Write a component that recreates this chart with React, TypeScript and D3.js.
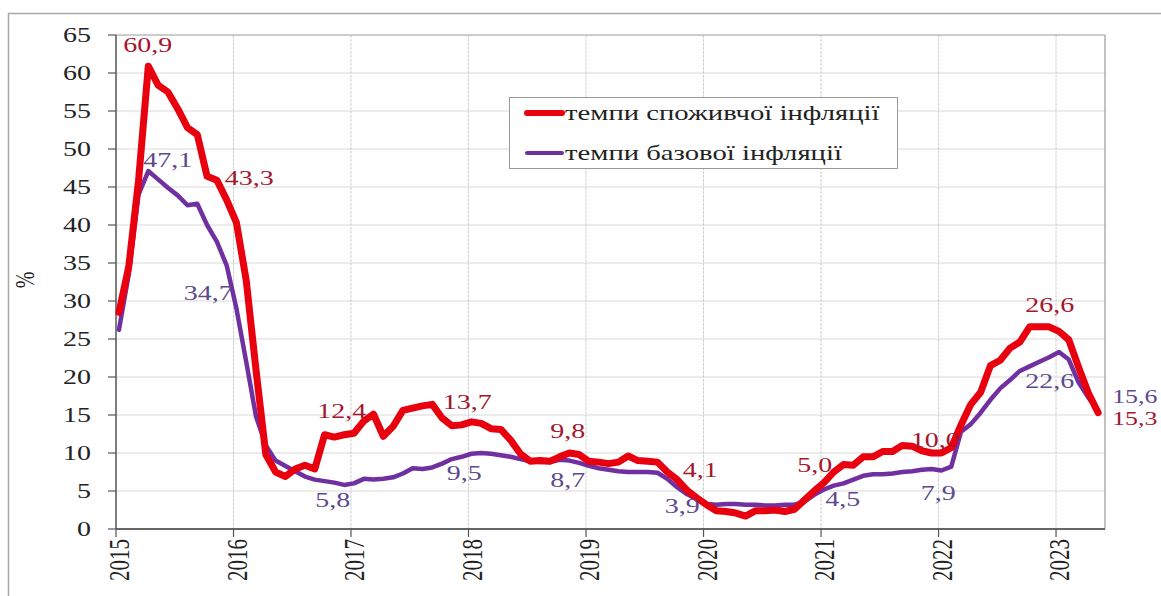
import React from "react";
import * as d3 from "d3";

// Monthly data, Jan 2015 – May 2023 (y/y, %)
const years = [2015, 2016, 2017, 2018, 2019, 2020, 2021, 2022, 2023];
const yTicks = [0, 5, 10, 15, 20, 25, 30, 35, 40, 45, 50, 55, 60, 65];

const cpi = [
  28.5, 34.5, 45.8, 60.9, 58.4, 57.5, 55.3, 52.8, 51.9, 46.4, 45.9, 43.3,
  40.3, 32.7, 20.9, 9.8, 7.5, 6.9, 7.9, 8.4, 7.9, 12.4, 12.1, 12.4,
  12.6, 14.2, 15.1, 12.2, 13.5, 15.6, 15.9, 16.2, 16.4, 14.6, 13.6, 13.7,
  14.1, 13.9, 13.2, 13.1, 11.7, 9.9, 8.9, 9.0, 8.9, 9.5, 10.0, 9.8,
  8.9, 8.8, 8.6, 8.8, 9.6, 9.0, 8.9, 8.8, 7.5, 6.5, 5.1, 4.1,
  3.2, 2.4, 2.3, 2.1, 1.7, 2.4, 2.4, 2.5, 2.3, 2.6, 3.8, 5.0,
  6.1, 7.5, 8.5, 8.4, 9.5, 9.5, 10.2, 10.2, 11.0, 10.9, 10.3, 10.0,
  10.0, 10.7, 13.7, 16.4, 18.0, 21.5, 22.2, 23.8, 24.6, 26.6, 26.6, 26.6,
  26.0, 24.9, 21.3, 17.9, 15.3,
];

const core = [
  26.2, 33.5, 44.0, 47.1, 46.0, 44.9, 43.9, 42.6, 42.8, 40.0, 37.8, 34.7,
  29.0, 22.0, 14.8, 11.0, 9.0, 8.3, 7.6, 6.9, 6.5, 6.3, 6.1, 5.8,
  6.0, 6.6, 6.5, 6.6, 6.8, 7.3, 8.0, 7.9, 8.1, 8.6, 9.2, 9.5,
  9.9, 10.0, 9.9, 9.7, 9.5, 9.2, 8.9, 8.8, 8.8, 9.1, 9.0, 8.7,
  8.3, 8.0, 7.8, 7.6, 7.5, 7.5, 7.5, 7.4, 6.6, 5.5, 4.6, 3.9,
  3.3, 3.2, 3.3, 3.3, 3.2, 3.2, 3.1, 3.1, 3.2, 3.2, 3.6, 4.5,
  5.2, 5.7, 6.0, 6.5, 7.0, 7.2, 7.2, 7.3, 7.5, 7.6, 7.8, 7.9,
  7.7, 8.2, 12.8, 13.8, 15.3, 17.0, 18.5, 19.6, 20.8, 21.4, 22.0, 22.6,
  23.3, 22.3, 19.3, 17.3, 15.6,
];

const legendLabels = ["темпи споживчої інфляції", "темпи базової інфляції"];

// Annotated points: series, month index
const annotations = [
  { s: "cpi", i: 3 }, { s: "core", i: 3 },
  { s: "cpi", i: 11 }, { s: "core", i: 11 },
  { s: "cpi", i: 23 }, { s: "core", i: 23 },
  { s: "cpi", i: 35 }, { s: "core", i: 35 },
  { s: "cpi", i: 47 }, { s: "core", i: 47 },
  { s: "cpi", i: 59 }, { s: "core", i: 59 },
  { s: "cpi", i: 71 }, { s: "core", i: 71 },
  { s: "cpi", i: 83 }, { s: "core", i: 83 },
  { s: "cpi", i: 95 }, { s: "core", i: 95 },
  { s: "core", i: 100 }, { s: "cpi", i: 100 },
];
// label offsets (layout only), same order as annotations
const labelOffsets = [
  [-25, -14], [-5, -4],
  [-2, -15], [-43, 35],
  [-27, -17], [-29, 22],
  [-19, -16], [-15, 23],
  [-29, -17], [-29, 24],
  [-14, -21], [-32, 14],
  [-17, -19], [11, 11],
  [-21, -6], [-11, 31],
  [-24, -15], [-24, 31],
  [14, -7], [14, 12],
];

const W = 1161;
const H = 596;
const L = 116, R = 1105, T = 35, B = 529;
const SX = 1.4;
const FONT = "'Liberation Serif', 'Times New Roman', serif";

const RED = "#e8000f";
const PURPLE = "#7030a0";
const RED_TXT = "#a3162e";
const PUR_TXT = "#5d4a8c";

function Txt(props: {
  x: number; y: number; children: any; anchor?: string; rot?: boolean;
  size?: number; fill?: string;
}) {
  const { x, y, children, anchor = "start", rot = false, size = 20, fill = "#222" } = props;
  return (
    <text
      transform={`translate(${x},${y}) scale(${SX},1)${rot ? " rotate(-90)" : ""}`}
      textAnchor={anchor}
      fontFamily={FONT}
      fontSize={size}
      fill={fill}
    >
      {children}
    </text>
  );
}

export default function App() {
  const x = d3.scaleLinear().domain([0, 101]).range([L, R]);
  const y = d3.scaleLinear().domain([0, 65]).range([B, T]);
  const px = (i: number) => x(i + 0.3);

  const line = d3
    .line<number>()
    .x((_, i) => px(i))
    .y((d) => y(d));

  const fmt = (v: number) => v.toFixed(1).replace(".", ",");

  return (
    <svg
      width={W}
      height={H}
      style={{ position: "absolute", left: 0, top: 0, background: "#fff" }}
    >
      {/* outer frame */}
      <path d={`M8.5,${H} V13.5 H${W}`} fill="none" stroke="#a8a8a8" strokeWidth={1.5} />

      {/* horizontal grid */}
      {yTicks.slice(1, -1).map((t) => (
        <line key={"h" + t} x1={L} x2={R} y1={y(t)} y2={y(t)} stroke="#d8d8d8" strokeWidth={1} />
      ))}
      {/* vertical grid */}
      {years.slice(1).map((yr, k) => (
        <line
          key={"v" + yr}
          x1={x((k + 1) * 12)}
          x2={x((k + 1) * 12)}
          y1={T}
          y2={B}
          stroke="#cfcfcf"
          strokeWidth={1}
          strokeDasharray="3,1"
        />
      ))}
      {/* plot border top/right */}
      <line x1={L} x2={R} y1={T} y2={T} stroke="#9a9a9a" strokeWidth={1.2} />
      <line x1={R} x2={R} y1={T} y2={B} stroke="#9a9a9a" strokeWidth={1.2} />

      {/* axes */}
      <line x1={L} x2={L} y1={T} y2={B} stroke="#555" strokeWidth={1.5} />
      <line x1={L} x2={R} y1={B} y2={B} stroke="#666" strokeWidth={2} />
      {yTicks.map((t) => (
        <g key={"yt" + t}>
          <line x1={L - 8} x2={L} y1={y(t)} y2={y(t)} stroke="#555" strokeWidth={1.2} />
          <Txt x={L - 25} y={y(t) + 7} anchor="end" size={20}>
            {t}
          </Txt>
        </g>
      ))}
      {years.map((yr, k) => (
        <g key={"xt" + yr}>
          <line x1={x(k * 12)} x2={x(k * 12)} y1={B} y2={B + 8} stroke="#555" strokeWidth={1.2} />
          <Txt x={x(k * 12) + 13} y={539} anchor="end" rot size={21}>
            {yr}
          </Txt>
        </g>
      ))}
      <Txt x={34} y={280} anchor="middle" rot size={20}>
        %
      </Txt>

      {/* series */}
      <path d={line(core) || ""} fill="none" stroke={PURPLE} strokeWidth={4.5} strokeLinejoin="round" strokeLinecap="round" />
      <path d={line(cpi) || ""} fill="none" stroke={RED} strokeWidth={7} strokeLinejoin="round" strokeLinecap="round" />

      {/* annotations */}
      {annotations.map((a, k) => {
        const data = a.s === "cpi" ? cpi : core;
        const v = data[a.i];
        const [dx, dy] = labelOffsets[k];
        const edge = a.i === 100;
        return (
          <Txt key={"a" + k} x={px(a.i) + dx} y={y(v) + dy} size={edge ? 18.5 : 20} fill={a.s === "cpi" ? RED_TXT : PUR_TXT}>
            {fmt(v)}
          </Txt>
        );
      })}

      {/* legend */}
      <rect x={509.5} y={97.5} width={388} height={71} fill="#fff" stroke="#9a9a9a" strokeWidth={1} />
      <line x1={527} x2={562} y1={113} y2={113} stroke={RED} strokeWidth={6} strokeLinecap="round" />
      <line x1={527} x2={562} y1={153} y2={153} stroke={PURPLE} strokeWidth={4} strokeLinecap="round" />
      <Txt x={565} y={120} size={20.5}>
        {legendLabels[0]}
      </Txt>
      <Txt x={565} y={160} size={20.5}>
        {legendLabels[1]}
      </Txt>
    </svg>
  );
}
